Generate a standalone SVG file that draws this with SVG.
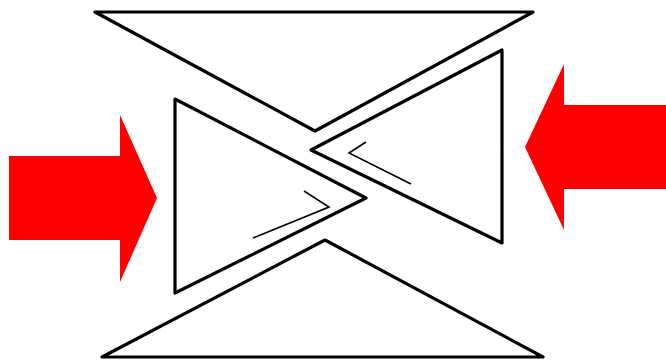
<svg xmlns="http://www.w3.org/2000/svg" width="666" height="361" viewBox="0 0 666 361">
<style>
.tri{fill:none;stroke:#000;stroke-width:3.2;stroke-linejoin:round}
.thin{fill:none;stroke:#000;stroke-width:1.6}
.arrow{fill:#ff0000}
</style>
<rect width="666" height="361" fill="#fff"/>
<g id="top-triangle"><polygon class="tri" points="95,12 533,12 315,131"/></g>
<g id="bottom-triangle"><polygon class="tri" points="325,240 543,357 102,357"/></g>
<g id="left-triangle"><polygon class="tri" points="175,99 366,198 175,293"/><polyline class="thin" points="253,238 329,207 304,191"/></g>
<g id="right-triangle"><polygon class="tri" points="502,50 502,243 311,150"/><polyline class="thin" points="366,142 349,153 411,184"/></g>
<g id="left-arrow"><polygon class="arrow" points="9,156 120,156 120,115 157,198 120,282 120,240 9,240"/></g>
<g id="right-arrow"><polygon class="arrow" points="666,105 564,105 564,64 525,147 564,230 564,189 666,189"/></g>
</svg>
